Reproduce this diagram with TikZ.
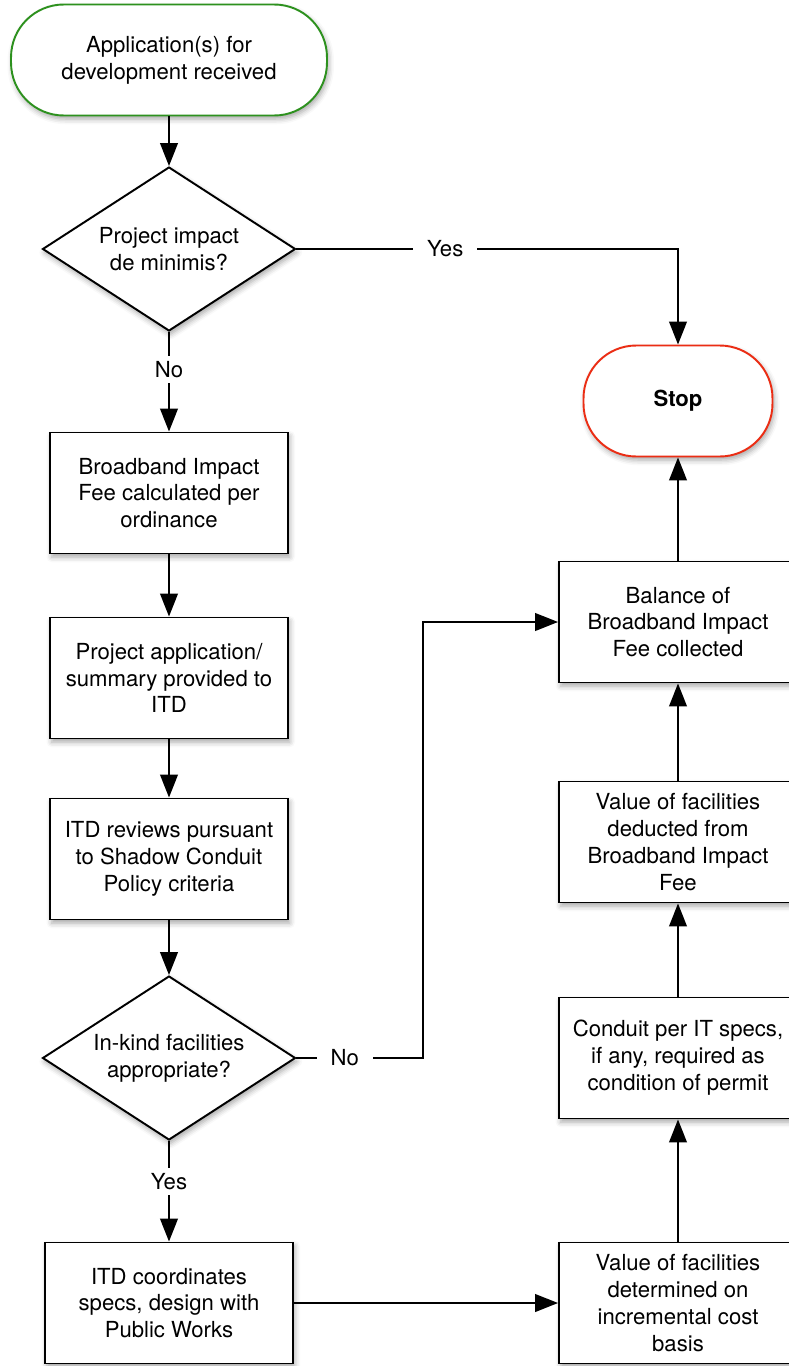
\documentclass[tikz,border=0pt]{standalone}
\usepackage{fontspec}
\setmainfont{TeX Gyre Heros}
\usetikzlibrary{arrows.meta, shapes.geometric, shadows.blur}
\definecolor{startgreen}{RGB}{45,145,30}
\definecolor{stopred}{RGB}{235,45,20}

\begin{document}
\begin{tikzpicture}[
    x=0.02cm, y=-0.02cm,
    every node/.style={font=\fontsize{12.6}{15.3}\selectfont},
    base/.style={draw, line width=1.1pt, fill=white, align=center,
                 inner sep=3pt,
                 blur shadow={shadow xshift=1pt, shadow yshift=-2pt,
                              shadow blur radius=3pt, shadow opacity=35}},
    process/.style={base, minimum width=4.76cm, minimum height=2.42cm},
    decision/.style={base, diamond, aspect=1.54, inner sep=0pt,
                     minimum width=5.06cm, minimum height=3.28cm},
    startbox/.style={base, draw=startgreen, rounded corners=30pt,
                     minimum width=6.32cm, minimum height=2.22cm},
    stopbox/.style={base, draw=stopred, rounded corners=30pt,
                    minimum width=3.78cm, minimum height=2.22cm},
    lbl/.style={fill=white, inner xsep=8pt, inner ysep=3pt},
    arr/.style={-{Triangle[length=13pt, width=10pt]}, line width=1.1pt}
  ]
  \useasboundingbox (0,0) rectangle (788,1366);

  \node[startbox] (start) at (169,60) {Application(s) for\\development received};
  \node[decision] (mini) at (169,249) {Project impact\\de minimis?};
  \node[stopbox] (stop) at (678,401) {\textbf{Stop}};
  \node[process] (fee) at (169,493) {Broadband Impact\\Fee calculated per\\ordinance};
  \node[process] (summary) at (169,678) {Project application/\\summary provided to\\ITD};
  \node[process] (review) at (169,859) {ITD reviews pursuant\\to Shadow Conduit\\Policy criteria};
  \node[decision] (inkind) at (169,1058) {In-kind facilities\\appropriate?};
  \node[process, minimum width=4.96cm] (coord) at (169,1303) {ITD coordinates\\specs, design with\\Public Works};

  \node[process] (balance) at (678,622) {Balance of\\Broadband Impact\\Fee collected};
  \node[process] (deduct) at (678,842) {Value of facilities\\deducted from\\Broadband Impact\\Fee};
  \node[process] (conduit) at (678,1058) {Conduit per IT specs,\\if any, required as\\condition of permit};
  \node[process] (value) at (678,1303) {Value of facilities\\determined on\\incremental cost\\basis};

  \draw[arr] (start) -- (mini);
  \draw[arr] (mini.east) -- node[lbl, pos=.39] {Yes} (mini.east -| stop) -- (stop);
  \draw[arr] (mini) -- node[lbl, pos=.38] {No} (fee);
  \draw[arr] (fee) -- (summary);
  \draw[arr] (summary) -- (review);
  \draw[arr] (review) -- (inkind);
  \draw[arr] (inkind.east) -- node[lbl, pos=.38] {No} ++(127,0) |- (balance);
  \draw[arr] (inkind) -- node[lbl, pos=.4] {Yes} (coord);
  \draw[arr] (coord) -- (value);
  \draw[arr] (value) -- (conduit);
  \draw[arr] (conduit) -- (deduct);
  \draw[arr] (deduct) -- (balance);
  \draw[arr] (balance) -- (stop);
\end{tikzpicture}
\end{document}
